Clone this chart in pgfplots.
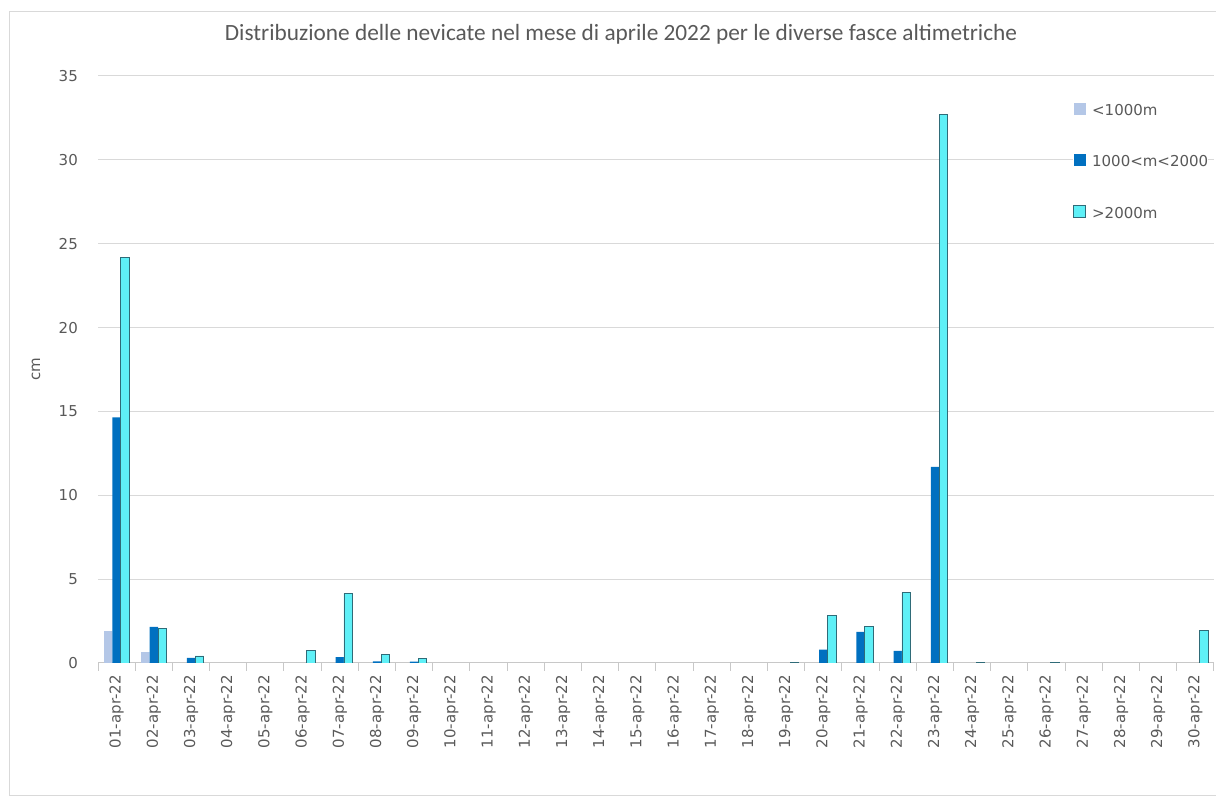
\documentclass[border=0pt]{standalone}
\usepackage{pgfplots}
\pgfplotsset{compat=1.18}
\usepackage{fontspec}
\setmainfont{DejaVu Sans}
\newfontfamily\titlefont{Carlito}
\definecolor{txt}{HTML}{595959}
\definecolor{gridc}{HTML}{D9D9D9}
\definecolor{axisc}{HTML}{C8C8C8}
\definecolor{cLight}{HTML}{B4C7E7}
\definecolor{cDark}{HTML}{0070C0}
\definecolor{cCyan}{HTML}{5EF0F7}
\definecolor{cEdge}{HTML}{2F6B78}
\begin{document}
\begin{tikzpicture}
\useasboundingbox (0pt,0pt) rectangle (1216pt,802pt);
\draw[gridc, line width=1pt] (1216pt,790pt) -- (9pt,790pt) -- (9pt,6pt) -- (1216pt,6pt);
\begin{axis}[
  at={(98pt,139pt)}, anchor=south west,
  scale only axis, width=1116pt, height=587pt,
  xmin=0.5, xmax=30.5, ymin=0, ymax=35, enlargelimits=false,
  ybar=0pt, bar width=8.4pt,
  separate axis lines,
  axis x line*=bottom, axis y line*=left,
  y axis line style={draw=none},
  x axis line style={draw=axisc, line width=1pt},
  ymajorgrids, grid style={gridc, line width=1pt},
  major tick length=0pt, tick align=outside,
  ytick={0,5,...,35},
  xtick={1,...,30},
  xticklabels={01-apr-22,02-apr-22,03-apr-22,04-apr-22,05-apr-22,06-apr-22,07-apr-22,08-apr-22,09-apr-22,10-apr-22,11-apr-22,12-apr-22,13-apr-22,14-apr-22,15-apr-22,16-apr-22,17-apr-22,18-apr-22,19-apr-22,20-apr-22,21-apr-22,22-apr-22,23-apr-22,24-apr-22,25-apr-22,26-apr-22,27-apr-22,28-apr-22,29-apr-22,30-apr-22},
  extra x ticks={0.5,1.5,...,30.5},
  extra x tick labels={},
  extra x tick style={major tick length=8pt, tick style={draw=axisc, line width=1pt}},
  /pgf/number format/assume math mode=true,
  xticklabel style={rotate=90, anchor=east, inner sep=0pt, font=\fontsize{15}{18}\selectfont, text=txt},
  xticklabel shift=12pt,
  yticklabel style={inner sep=0pt, font=\fontsize{15}{18}\selectfont, text=txt},
  yticklabel shift=20pt,
  title={Distribuzione delle nevicate nel mese di aprile 2022 per le diverse fasce altimetriche},
  title style={font=\titlefont\fontsize{23.3}{27}\selectfont, text=txt, at={(axis description cs:0.4686,1.0494)}, anchor=base, inner sep=0pt},
  ylabel={cm},
  ylabel style={at={(axis description cs:-0.0556,0.5)}, anchor=center, inner sep=0pt, font=\fontsize{15}{18}\selectfont, text=txt},
  legend cell align=left,
  legend image code/.code={\path[#1] (0pt,-4pt) rectangle (12pt,8pt);},
  legend style={at={(axis description cs:0.8737,0.955)}, anchor=north west, draw=none, fill=white, inner sep=0pt, font=\fontsize{15}{18}\selectfont, text=txt, row sep=37pt, column sep=6pt, nodes={inner sep=0pt}},
]
\addplot[fill=cLight, draw=none] coordinates {(1,1.9) (2,0.65)};
\addplot[fill=cDark, draw=none] coordinates {(1,14.65) (2,2.15) (3,0.3) (7,0.35) (8,0.1) (9,0.08) (20,0.8) (21,1.85) (22,0.72) (23,11.7)};
\addplot[fill=cCyan, draw=cEdge, line width=0.9pt] coordinates {(1,24.2) (2,2.05) (3,0.42) (6,0.72) (7,4.15) (8,0.48) (9,0.27) (19,0.05) (20,2.85) (21,2.2) (22,4.2) (23,32.7) (24,0.05) (26,0.05) (30,1.95)};
\legend{{<1000m},{1000<m<2000},{>2000m}}
\end{axis}
\end{tikzpicture}
\end{document}
